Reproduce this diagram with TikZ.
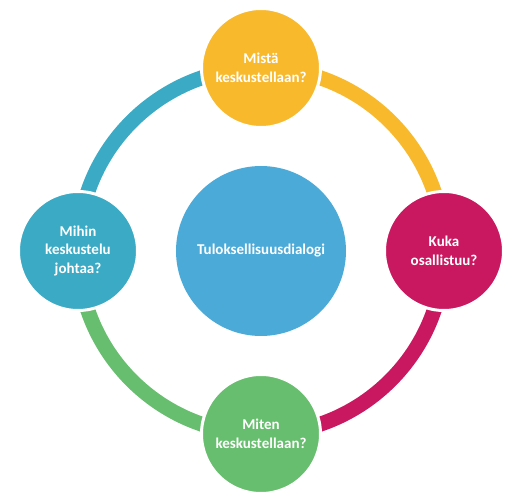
\documentclass[tikz,border=0pt]{standalone}
\usepackage{fontspec}
\setmainfont{Carlito}
\usetikzlibrary{positioning,backgrounds}
\definecolor{dlgyellow}{HTML}{F9B92C}
\definecolor{dlgteal}{HTML}{3BAAC5}
\definecolor{dlgmagenta}{HTML}{C9185F}
\definecolor{dlggreen}{HTML}{67BE6E}
\definecolor{dlgblue}{HTML}{4BAAD8}
\begin{document}
\begin{tikzpicture}[x=1pt,y=1pt,
    question/.style={circle,draw=white,line width=3pt,minimum size=119pt,inner sep=0pt,
        text=white,font=\bfseries\fontsize{15}{18.5}\selectfont,align=center},
    ringpart/.style={line width=15pt}]
            \useasboundingbox (-261,-252) rectangle (256,251);
            \node[circle,fill=dlgblue,minimum size=170pt,inner sep=0pt,text=white,
                font=\bfseries\fontsize{15}{18.5}\selectfont] (dialogi) at (0,0) {Tuloksellisuusdialogi};
            \node[question,fill=dlgyellow] (mista) at (90:183) {Mistä\\keskustellaan?};
            \node[question,fill=dlgmagenta] (kuka) at (0:183) {Kuka\\osallistuu?};
            \node[question,fill=dlggreen] (miten) at (-90:183) {Miten\\keskustellaan?};
            \node[question,fill=dlgteal] (mihin) at (180:183) {Mihin\\keskustelu\\johtaa?};
            \begin{scope}[on background layer]
                \draw[ringpart,dlgteal] (mihin.center) arc[start angle=180,end angle=90,radius=183];
                \draw[ringpart,dlgyellow] (mista.center) arc[start angle=90,end angle=0,radius=183];
                \draw[ringpart,dlgmagenta] (kuka.center) arc[start angle=0,end angle=-90,radius=183];
                \draw[ringpart,dlggreen] (miten.center) arc[start angle=-90,end angle=-180,radius=183];
            \end{scope}
        \end{tikzpicture}
\end{document}
